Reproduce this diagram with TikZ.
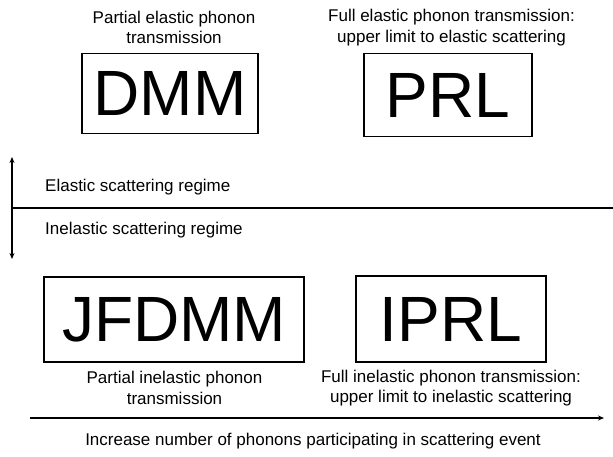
\documentclass[tikz,border=0pt]{standalone}
\usepackage{fontspec}
\setmainfont{Liberation Sans}
\usetikzlibrary{arrows.meta}
\begin{document}
\begin{tikzpicture}[x=1pt,y=-1pt,
  lbl/.style={font=\fontsize{17}{20.5}\selectfont, align=center, inner sep=0pt},
  side/.style={font=\fontsize{17}{20.5}\selectfont, anchor=west, inner sep=0pt},
  bigbox/.style={draw, line width=1.3pt, font=\fontsize{64}{64}\selectfont},
  axis/.style={line width=1.2pt}]
\useasboundingbox (0,0) rectangle (613,457);
% boxes
\node[bigbox, minimum width=176pt, minimum height=80pt] (dmm) at (170,93.5) {DMM};
\node[bigbox, minimum width=168pt, minimum height=83pt] (prl) at (448,95) {PRL};
\node[bigbox, minimum width=260pt, minimum height=85pt] (jfdmm) at (174,319.5) {JFDMM};
\node[bigbox, minimum width=190pt, minimum height=86pt] (iprl) at (451,319) {IPRL};
% captions
\node[lbl] (t1) at (174,27.5) {Partial elastic phonon\\transmission};
\node[lbl] (t2) at (451.5,27.5) {Full elastic phonon transmission:\\upper limit to elastic scattering};
\node[lbl] (t3) at (174.5,388) {Partial inelastic phonon\\transmission};
\node[lbl] (t4) at (451,388) {Full inelastic phonon transmission:\\upper limit to inelastic scattering};
% regime
\coordinate (hl) at (12,208);
\coordinate (hr) at (613,208);
\draw[axis] (hl) -- (hr);
\coordinate (vt) at (12,157);
\coordinate (vb) at (12,259);
\draw[axis, {Stealth[length=6pt,width=5pt]}-{Stealth[length=6pt,width=5pt]}] (vt) -- (vb);
\node[side] (el) at (45,187) {Elastic scattering regime};
\node[side] (inel) at (45,230) {Inelastic scattering regime};
% bottom axis
\coordinate (bl) at (30,418);
\coordinate (br) at (604,418);
\draw[axis, -{Stealth[length=6pt,width=5pt]}] (bl) -- (br);
\node[lbl] (inc) at (313,441) {Increase number of phonons participating in scattering event};
\end{tikzpicture}
\end{document}
